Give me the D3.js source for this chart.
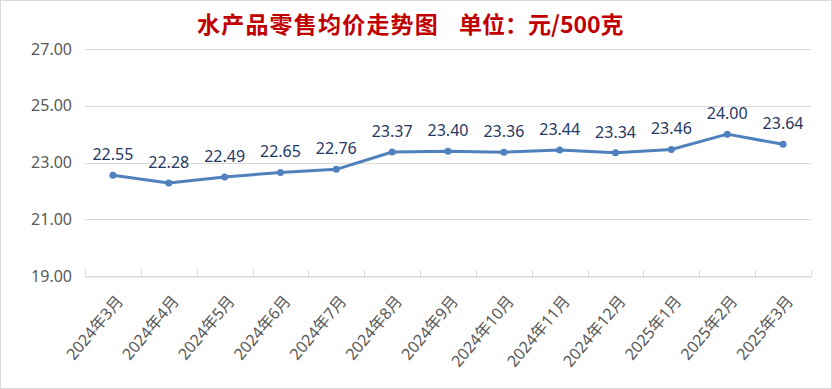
<!DOCTYPE html>
<html lang="zh">
<head>
<meta charset="utf-8">
<title>水产品零售均价走势图</title>
<script src="https://cdn.jsdelivr.net/npm/d3@7"></script>
<style>
  body { margin: 0; background: #fff; }
  .axis text { font-family: "Noto Sans", "Noto Sans CJK SC", sans-serif; fill: #595959; }
</style>
</head>
<body>
<script>
// data
var months = ["2024年3月", "2024年4月", "2024年5月", "2024年6月", "2024年7月", "2024年8月",
              "2024年9月", "2024年10月", "2024年11月", "2024年12月", "2025年1月", "2025年2月", "2025年3月"];
var prices = [22.55, 22.28, 22.49, 22.65, 22.76, 23.37, 23.40, 23.36, 23.44, 23.34, 23.46, 24.00, 23.64];
var yTicks = [19, 21, 23, 25, 27];

var w = 832, h = 389;
var plotLeft = 85, plotRight = 811, plotTop = 49, plotBottom = 276;

var svg = d3.select("body").append("svg")
    .attr("width", w)
    .attr("height", h);

// chart border
svg.append("rect")
    .attr("x", 0.5).attr("y", 0.5)
    .attr("width", w - 1).attr("height", h - 1)
    .attr("fill", "#fff")
    .attr("stroke", "#d9d9d9");

// title: two pieces, the unit set apart
var title = svg.append("text")
    .attr("y", 33)
    .attr("font-family", "'Noto Sans CJK SC', sans-serif")
    .attr("font-weight", "bold")
    .attr("font-size", 23)
    .attr("fill", "#c00000");
title.append("tspan").attr("x", 197).attr("letter-spacing", 1.2).text("水产品零售均价走势图");
title.append("tspan").attr("x", 459).text("单位：元/500克");

var xScale = d3.scaleBand().domain(months).range([plotLeft, plotRight]);
var yScale = d3.scaleLinear().domain([19, 27]).range([plotBottom, plotTop]);

// gridlines
svg.append("g").selectAll("line")
    .data(yTicks)
    .enter().append("line")
    .attr("x1", plotLeft).attr("x2", plotRight)
    .attr("y1", function(d) { return Math.round(yScale(d)) + 0.5; })
    .attr("y2", function(d) { return Math.round(yScale(d)) + 0.5; })
    .attr("stroke", "#d9d9d9");

// y axis labels
var yAxis = d3.axisLeft(yScale).tickValues(yTicks).tickFormat(d3.format(".2f")).tickSize(0).tickPadding(13);
svg.append("g")
    .attr("class", "y axis")
    .attr("transform", "translate(" + plotLeft + ",0)")
    .call(yAxis)
    .call(function(g) { g.select(".domain").remove(); })
    .selectAll("text").attr("font-size", 16);

// category tick marks (between bands, pointing up)
var edges = months.map(function(m) { return xScale(m); }).concat([plotRight]);
svg.append("g").selectAll("line")
    .data(edges)
    .enter().append("line")
    .attr("x1", function(d) { return Math.round(d) + 0.5; })
    .attr("x2", function(d) { return Math.round(d) + 0.5; })
    .attr("y1", plotBottom - 6).attr("y2", plotBottom)
    .attr("stroke", "#d9d9d9");

// x axis
var xAxis = d3.axisBottom(xScale).tickSize(0).tickPadding(0);
var gx = svg.append("g")
    .attr("class", "x axis")
    .attr("transform", "translate(0," + (Math.round(plotBottom) + 0.5) + ")")
    .call(xAxis);
gx.select(".domain").attr("stroke", "#d9d9d9");
gx.selectAll("text")
    .attr("font-size", 16)
    .attr("text-anchor", "end")
    .attr("dy", null)
    .attr("y", 0)
    .attr("transform", "translate(11,25) rotate(-50)");

// line
var line = d3.line()
    .x(function(d, i) { return xScale(months[i]) + xScale.bandwidth() / 2; })
    .y(function(d) { return yScale(d); });

svg.append("path")
    .datum(prices)
    .attr("d", line)
    .attr("fill", "none")
    .attr("stroke", "#4f81bd")
    .attr("stroke-width", 3)
    .attr("stroke-linejoin", "round");

svg.append("g").selectAll("circle")
    .data(prices)
    .enter().append("circle")
    .attr("cx", function(d, i) { return xScale(months[i]) + xScale.bandwidth() / 2; })
    .attr("cy", function(d) { return yScale(d); })
    .attr("r", 3.5)
    .attr("fill", "#4f81bd");

// data labels
svg.append("g").selectAll("text")
    .data(prices)
    .enter().append("text")
    .attr("x", function(d, i) { return xScale(months[i]) + xScale.bandwidth() / 2; })
    .attr("y", function(d) { return yScale(d) - 15; })
    .attr("text-anchor", "middle")
    .attr("font-family", "'Noto Sans', sans-serif")
    .attr("font-size", 16)
    .attr("fill", "#1f3864")
    .text(function(d) { return d.toFixed(2); });
</script>
</body>
</html>
